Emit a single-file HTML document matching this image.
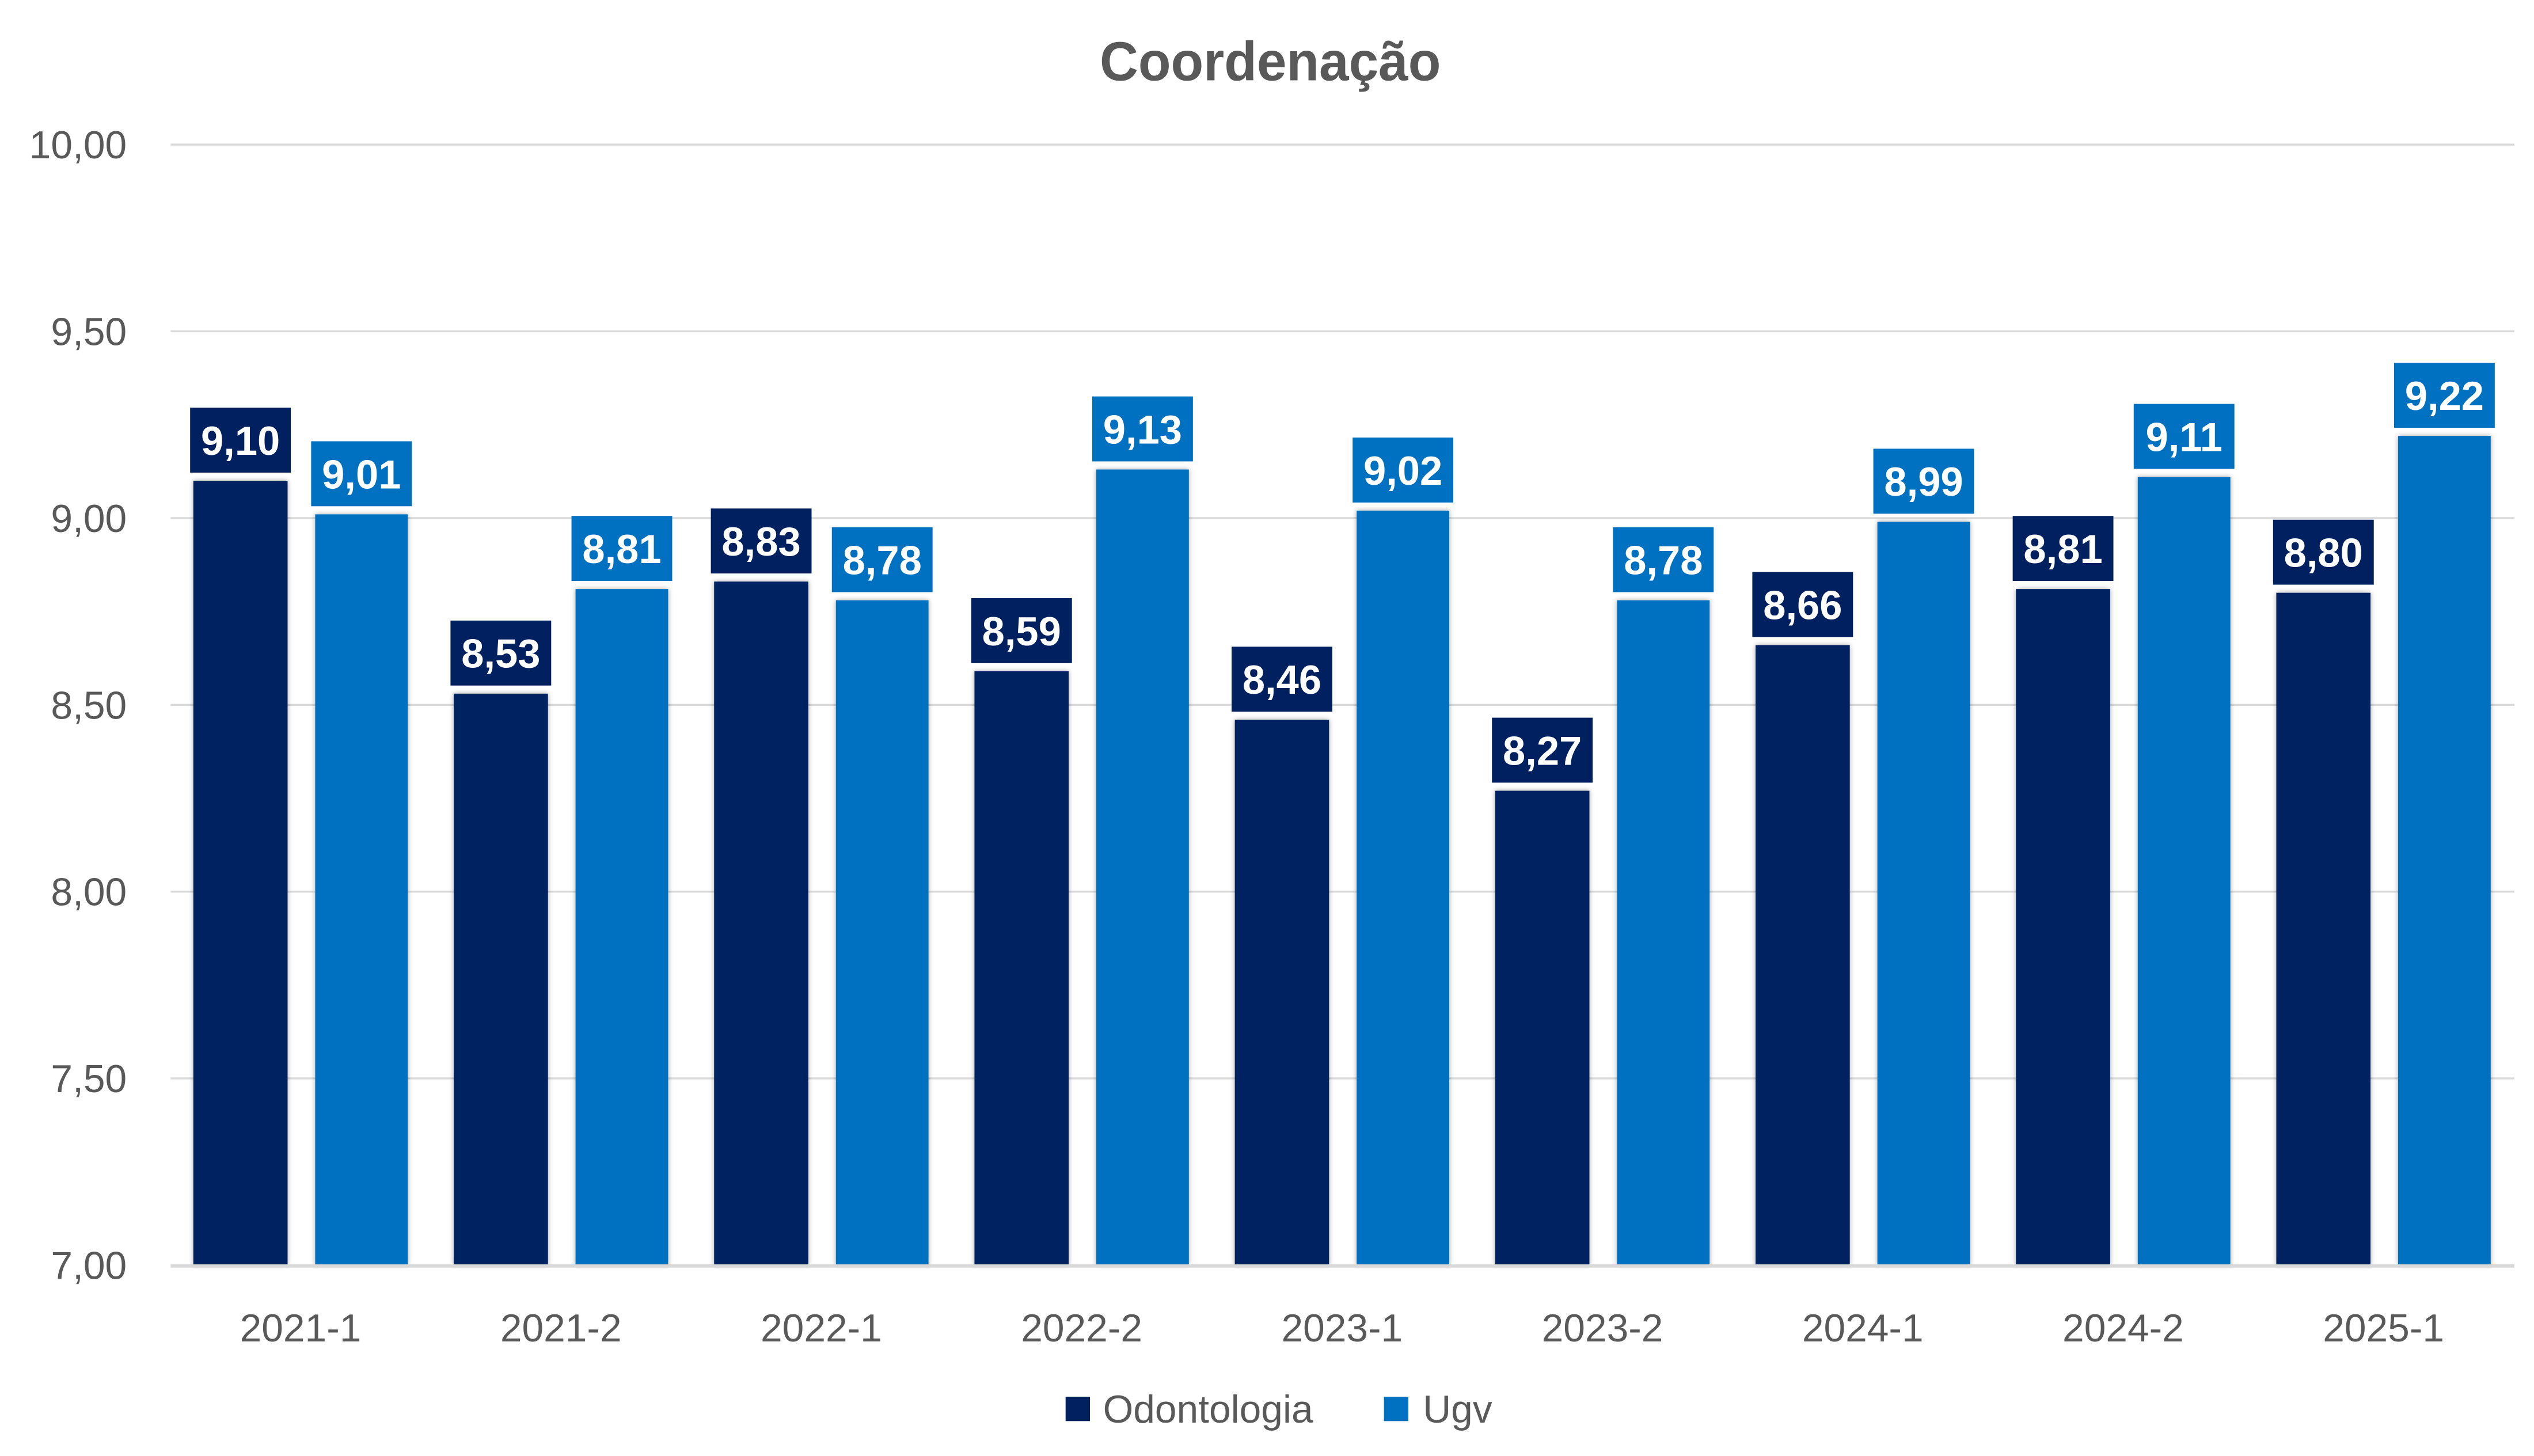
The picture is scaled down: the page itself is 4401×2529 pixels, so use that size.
<!DOCTYPE html>
<html><head><meta charset="utf-8"><style>html,body{margin:0;padding:0;background:#fff;}svg{display:block}</style></head>
<body>
<svg width="4401" height="2529" viewBox="0 0 1560 896.5" xmlns="http://www.w3.org/2000/svg" font-family="'Liberation Sans', sans-serif">
<defs><filter id="sh" x="-20%" y="-5%" width="140%" height="110%"><feDropShadow dx="0" dy="0" stdDeviation="1.5" flood-color="#000" flood-opacity="0.35"/></filter></defs>
<rect width="1560" height="896.5" fill="#fff"/>
<text x="782" y="49.5" text-anchor="middle" font-size="34" font-weight="bold" fill="#595959" textLength="210" lengthAdjust="spacingAndGlyphs">Coordenação</text>
<g stroke="#d9d9d9" stroke-width="1.2">
<line x1="105" x2="1548" y1="89" y2="89"/><line x1="105" x2="1548" y1="204" y2="204"/>
<line x1="105" x2="1548" y1="319" y2="319"/><line x1="105" x2="1548" y1="434" y2="434"/>
<line x1="105" x2="1548" y1="549" y2="549"/><line x1="105" x2="1548" y1="664" y2="664"/>
</g>
<g font-size="24" fill="#595959" text-anchor="end">
<text x="78" y="97.5">10,00</text><text x="78" y="212.5">9,50</text><text x="78" y="327.5">9,00</text>
<text x="78" y="442.5">8,50</text><text x="78" y="557.5">8,00</text><text x="78" y="672.5">7,50</text><text x="78" y="787.5">7,00</text>
</g>
<g filter="url(#sh)">
<g fill="#002060">
<rect x="119" y="296" width="58" height="483"/>
<rect x="279.3" y="427.1" width="58" height="351.9"/>
<rect x="439.6" y="358.1" width="58" height="420.9"/>
<rect x="599.9" y="413.3" width="58" height="365.7"/>
<rect x="760.2" y="443.2" width="58" height="335.8"/>
<rect x="920.5" y="486.9" width="58" height="292.1"/>
<rect x="1080.8" y="397.2" width="58" height="381.8"/>
<rect x="1241.1" y="362.7" width="58" height="416.3"/>
<rect x="1401.4" y="365" width="58" height="414"/>
</g>
<g fill="#0070c0">
<rect x="194" y="316.7" width="57" height="462.3"/>
<rect x="354.3" y="362.7" width="57" height="416.3"/>
<rect x="514.6" y="369.6" width="57" height="409.4"/>
<rect x="674.9" y="289.1" width="57" height="489.9"/>
<rect x="835.2" y="314.4" width="57" height="464.6"/>
<rect x="995.5" y="369.6" width="57" height="409.4"/>
<rect x="1155.8" y="321.3" width="57" height="457.7"/>
<rect x="1316.1" y="293.7" width="57" height="485.3"/>
<rect x="1476.4" y="268.4" width="57" height="510.6"/>
</g>
</g>
<line x1="105" x2="1548" y1="779.5" y2="779.5" stroke="#d9d9d9" stroke-width="2"/>
<g fill="#002060">
<rect x="117" y="251" width="62" height="40"/>
<rect x="277.3" y="382.1" width="62" height="40"/>
<rect x="437.6" y="313.1" width="62" height="40"/>
<rect x="597.9" y="368.3" width="62" height="40"/>
<rect x="758.2" y="398.2" width="62" height="40"/>
<rect x="918.5" y="441.9" width="62" height="40"/>
<rect x="1078.8" y="352.2" width="62" height="40"/>
<rect x="1239.1" y="317.7" width="62" height="40"/>
<rect x="1399.4" y="320" width="62" height="40"/>
</g>
<g fill="#0070c0">
<rect x="191.5" y="271.7" width="62" height="40"/>
<rect x="351.8" y="317.7" width="62" height="40"/>
<rect x="512.1" y="324.6" width="62" height="40"/>
<rect x="672.4" y="244.1" width="62" height="40"/>
<rect x="832.7" y="269.4" width="62" height="40"/>
<rect x="993" y="324.6" width="62" height="40"/>
<rect x="1153.3" y="276.3" width="62" height="40"/>
<rect x="1313.6" y="248.7" width="62" height="40"/>
<rect x="1473.9" y="223.4" width="62" height="40"/>
</g>
<g font-size="25" font-weight="bold" fill="#fff" text-anchor="middle">
<text x="148" y="280">9,10</text>
<text x="308.3" y="411.1">8,53</text>
<text x="468.6" y="342.1">8,83</text>
<text x="628.9" y="397.3">8,59</text>
<text x="789.2" y="427.2">8,46</text>
<text x="949.5" y="470.9">8,27</text>
<text x="1109.8" y="381.2">8,66</text>
<text x="1270.1" y="346.7">8,81</text>
<text x="1430.4" y="349">8,80</text>
<text x="222.5" y="300.7">9,01</text>
<text x="382.8" y="346.7">8,81</text>
<text x="543.1" y="353.6">8,78</text>
<text x="703.4" y="273.1">9,13</text>
<text x="863.7" y="298.4">9,02</text>
<text x="1024" y="353.6">8,78</text>
<text x="1184.3" y="305.3">8,99</text>
<text x="1344.6" y="277.7">9,11</text>
<text x="1504.9" y="252.4">9,22</text>
</g>
<g font-size="24" fill="#595959" text-anchor="middle">
<text x="185" y="826">2021-1</text><text x="345.3" y="826">2021-2</text><text x="505.6" y="826">2022-1</text>
<text x="665.9" y="826">2022-2</text><text x="826.2" y="826">2023-1</text><text x="986.5" y="826">2023-2</text>
<text x="1146.8" y="826">2024-1</text><text x="1307.1" y="826">2024-2</text><text x="1467.4" y="826">2025-1</text>
</g>
<rect x="656" y="860" width="15" height="15" fill="#002060"/>
<text x="679" y="876" font-size="24" fill="#595959">Odontologia</text>
<rect x="852" y="860" width="15" height="15" fill="#0070c0"/>
<text x="876" y="876" font-size="24" fill="#595959">Ugv</text>
</svg>
</body></html>
